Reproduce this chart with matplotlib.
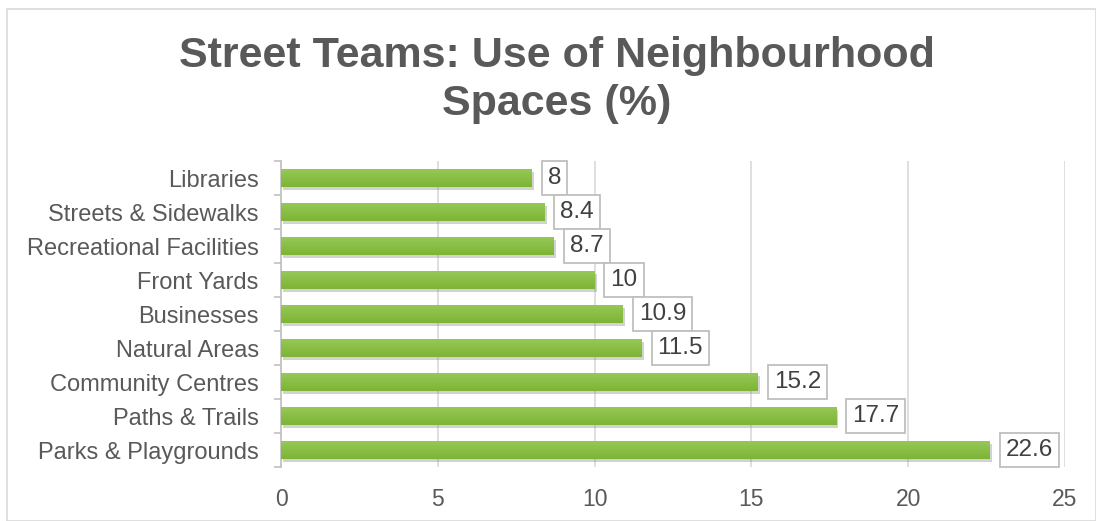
import matplotlib
matplotlib.use("Agg")
import matplotlib.pyplot as plt
import matplotlib.patches as mpatches
import matplotlib.patheffects as pe
from matplotlib.colors import LinearSegmentedColormap
import numpy as np

plt.rcParams["font.family"] = ["Liberation Sans", "DejaVu Sans"]

# ---------------------------------------------------------------------------
# Data (top of chart first)
# ---------------------------------------------------------------------------
categories = [
    "Libraries", "Streets & Sidewalks", "Recreational Facilities",
    "Front Yards", "Businesses", "Natural Areas", "Community Centres",
    "Paths & Trails", "Parks & Playgrounds",
]
values = [8, 8.4, 8.7, 10, 10.9, 11.5, 15.2, 17.7, 22.6]
value_labels = ["8", "8.4", "8.7", "10", "10.9", "11.5", "15.2", "17.7", "22.6"]
x_ticks = [0, 5, 10, 15, 20, 25]

TITLE = "Street Teams: Use of Neighbourhood\nSpaces (%)"

TEXT_GRAY = "#595959"
GRID_GRAY = "#D9D9D9"
AXIS_GRAY = "#BFBFBF"
# bar gradient: light at top, darker at bottom
bar_cmap = LinearSegmentedColormap.from_list("bar", ["#96C857", "#7DB435"])

fig = plt.figure(figsize=(10.96, 5.21), dpi=100)
ax = fig.add_axes([0.2564, 0.1036, 0.7153, 0.5873])

# outer chart border
fig.patches.append(mpatches.Rectangle(
    (7 / 1096, 0), 1 - 7 / 1096, 1 - 9 / 521, transform=fig.transFigure,
    fill=False, edgecolor=GRID_GRAY, linewidth=1.2))

y = np.arange(len(categories))
bars = ax.barh(y, values, height=0.52, color="#84BB3C", zorder=3)
grad = np.linspace(0, 1, 64).reshape(-1, 1)
for b in bars:
    b.set_path_effects([pe.SimplePatchShadow(offset=(1.5, -2), shadow_rgbFace="#7F7F7F",
                                             alpha=0.35), pe.Normal()])
    x0, y0, w, h = b.get_x(), b.get_y(), b.get_width(), b.get_height()
    im = ax.imshow(grad, cmap=bar_cmap, aspect="auto", zorder=4,
                   extent=(x0, x0 + w, y0 + h, y0), origin="upper")
    im.set_clip_path(b)

for yi, v, lab in zip(y, values, value_labels):
    ax.annotate(lab, (v, yi), xytext=(11.5, 0), textcoords="offset points",
                ha="left", va="center", fontsize=17.5, color="#404040", zorder=5,
                bbox=dict(boxstyle="square,pad=0.25", facecolor="white",
                          edgecolor=AXIS_GRAY, linewidth=1.3))

ax.set_xlim(0, 25)
ax.set_ylim(len(categories) - 0.5, -0.5)
ax.set_xticks(x_ticks)
ax.set_yticks(y)
ax.set_yticklabels(categories)
ax.set_yticks(np.arange(len(categories) + 1) - 0.5, minor=True)

ax.xaxis.grid(True, color=GRID_GRAY, linewidth=1.2, zorder=0)
ax.set_axisbelow(True)
for s in ["top", "right", "bottom"]:
    ax.spines[s].set_visible(False)
ax.spines["left"].set_color(AXIS_GRAY)
ax.spines["left"].set_linewidth(1.2)

ax.tick_params(axis="x", length=0, pad=15, labelsize=16.5, labelcolor=TEXT_GRAY)
ax.tick_params(axis="y", which="major", length=0, pad=16, labelsize=17,
               labelcolor=TEXT_GRAY)
ax.tick_params(axis="y", which="minor", length=5, color=AXIS_GRAY, width=1.2)

fig.text(0.508, 0.846, TITLE, ha="center", va="center", fontsize=31,
         fontweight="bold", color=TEXT_GRAY, linespacing=1.26)

fig.savefig("out.png", dpi=100)
